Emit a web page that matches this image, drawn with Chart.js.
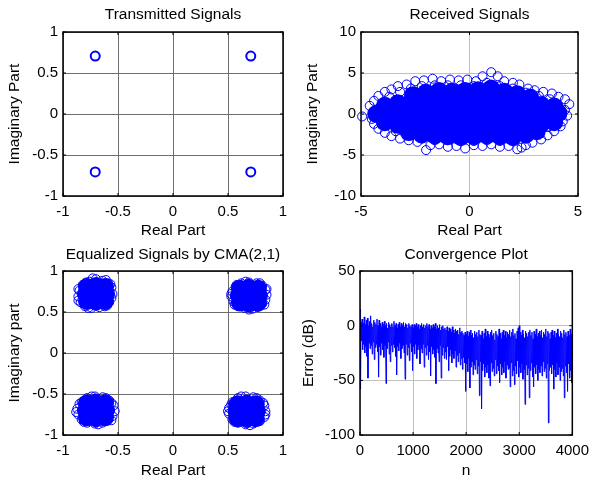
<!DOCTYPE html>
<html>
<head>
<meta charset="utf-8">
<script src="https://cdn.jsdelivr.net/npm/chart.js@4.4.1/dist/chart.umd.min.js"></script>
<style>
  body { margin: 0; background: #fff; width: 596px; height: 483px; position: relative; overflow: hidden; }
  canvas { position: absolute; }
</style>
</head>
<body>
<canvas id="c-tx" width="298" height="241" style="left:0;top:0"></canvas>
<canvas id="c-rx" width="298" height="241" style="left:298px;top:0"></canvas>
<canvas id="c-eq" width="298" height="242" style="left:0;top:241px"></canvas>
<canvas id="c-err" width="298" height="242" style="left:298px;top:241px"></canvas>
<script>
// --- data ---
const txRe = [0.707, -0.707, -0.707, 0.707];
const txIm = [0.707, 0.707, -0.707, -0.707];

// received cloud: dense middle (drawn filled) and the loose circles round it
const rxCore = [
  [-2.6, 2.3], [-2.0, 2.6], [-1.4, 2.8], [-0.8, 2.7], [-0.2, 2.8], [0.4, 2.9], [1.0, 3.1], [1.6, 2.7], [2.2, 2.4], [2.8, 2.0],
  [-3.9, 1.0], [-3.3, 1.3], [-2.7, 1.4], [-2.1, 1.3], [-1.5, 1.4], [-0.9, 1.3], [-0.3, 1.4], [0.3, 1.3], [0.9, 1.5], [1.5, 1.4],
  [2.1, 1.3], [2.7, 1.2], [3.3, 1.1], [3.9, 0.9],
  [-4.3, 0.0], [-3.7, 0.1], [-3.1, -0.1], [-2.5, 0.0], [-1.9, 0.1], [-1.3, -0.1], [-0.7, 0.0], [-0.1, 0.1], [0.5, 0.0], [1.1, -0.1],
  [1.7, 0.1], [2.3, 0.0], [2.9, 0.1], [3.5, 0.0], [4.1, 0.1],
  [-3.9, -1.0], [-3.3, -1.3], [-2.7, -1.4], [-2.1, -1.3], [-1.5, -1.4], [-0.9, -1.3], [-0.3, -1.4], [0.3, -1.3], [0.9, -1.4], [1.5, -1.3],
  [2.1, -1.4], [2.7, -1.3], [3.3, -1.2], [3.9, -1.0],
  [-2.8, -2.2], [-2.2, -2.5], [-1.6, -2.6], [-1.0, -2.7], [-0.4, -2.8], [0.2, -2.7], [0.8, -2.6], [1.4, -2.7], [2.0, -2.8], [2.6, -2.5], [3.1, -2.1],
];
const rxEdge = [
  [-4.6, 1.0], [-4.4, 1.6], [-4.2, 2.2], [-3.9, 2.7], [-3.6, 3.0], [-3.3, 3.4], [-2.9, 3.6], [-2.5, 4.0], [-2.1, 4.1], [-1.7, 4.3],
  [-1.3, 4.0], [-0.9, 4.2], [-0.5, 4.1], [-0.1, 4.2], [0.3, 4.0], [0.6, 4.6], [1.0, 5.1], [1.3, 4.6], [1.6, 4.0], [2.0, 3.8],
  [2.3, 3.6], [2.7, 3.1], [3.0, 2.9], [3.4, 2.7], [3.8, 2.5], [4.1, 2.1], [4.4, 1.8], [4.6, 1.2],
  [4.4, 0.5], [4.5, -0.2], [4.3, -0.9], [4.2, -1.5], [3.9, -2.1],
  [3.6, -2.6], [3.3, -3.1], [2.9, -3.5], [2.6, -3.8], [2.2, -4.3], [2.4, -4.1], [1.8, -3.9], [1.4, -4.0], [1.0, -3.7], [0.6, -3.9],
  [0.2, -3.8], [-0.2, -4.2], [-0.6, -3.9], [-1.0, -4.0], [-1.4, -3.7], [-1.8, -3.8], [-2.0, -4.4], [-2.4, -3.4], [-2.8, -3.2],
  [-3.2, -3.0], [-3.6, -2.7], [-3.9, -2.3], [-4.2, -1.8], [-4.4, -1.2], [-4.5, -0.6], [-4.95, -0.3],
  [-4.0, 1.4], [-3.7, 2.1], [-3.2, 2.7], [-2.7, 3.1], [-2.2, 3.4], [-1.6, 3.5], [-1.0, 3.5], [-0.4, 3.5], [0.2, 3.4], [0.8, 3.8],
  [1.4, 3.4], [2.0, 3.1], [2.6, 2.6], [3.2, 2.2], [3.7, 1.8], [4.1, 1.0], [4.0, 0.1], [3.9, -0.8], [3.6, -1.6], [3.2, -2.4],
  [2.6, -3.0], [2.0, -3.3], [1.4, -3.3], [0.8, -3.2], [0.2, -3.3], [-0.4, -3.3], [-1.0, -3.2], [-1.6, -3.2], [-2.2, -3.0],
  [-2.8, -2.6], [-3.4, -2.1], [-3.9, -1.4], [-4.1, -0.6], [-4.2, 0.3],
];

// equalized clusters: centre, dense body, loose rim
const eqCenter = [[-0.70, 0.72], [0.69, 0.70], [-0.70, -0.70], [0.67, -0.71]];
const eqCore = [
  [-0.782, 0.805], [-0.618, 0.805], [-0.782, 0.635], [-0.618, 0.635],
  [0.608, 0.785], [0.772, 0.785], [0.608, 0.615], [0.772, 0.615],
  [-0.782, -0.615], [-0.618, -0.615], [-0.782, -0.785], [-0.618, -0.785],
  [0.588, -0.625], [0.752, -0.625], [0.588, -0.795], [0.752, -0.795],
];
const eqBody = [
  [-0.81, 0.72], [-0.59, 0.72], [-0.70, 0.84], [-0.70, 0.60],
  [0.58, 0.70], [0.80, 0.70], [0.69, 0.82], [0.69, 0.58],
  [-0.81, -0.70], [-0.59, -0.70], [-0.70, -0.58], [-0.70, -0.82],
  [0.56, -0.71], [0.78, -0.71], [0.67, -0.59], [0.67, -0.83],
];
const eqEdge = [
  [-0.55, 0.72], [-0.56, 0.80], [-0.59, 0.85], [-0.64, 0.88], [-0.70, 0.90], [-0.76, 0.87], [-0.82, 0.83], [-0.85, 0.76],
  [-0.86, 0.69], [-0.84, 0.62], [-0.80, 0.57], [-0.74, 0.55], [-0.67, 0.56], [-0.62, 0.57], [-0.58, 0.62], [-0.56, 0.67],
  [-0.57, 0.84], [-0.61, 0.89], [-0.73, 0.91], [-0.79, 0.86], [-0.86, 0.78], [-0.86, 0.64], [-0.77, 0.55], [-0.60, 0.58],
  [0.85, 0.71], [0.84, 0.77], [0.81, 0.82], [0.76, 0.85], [0.69, 0.86], [0.62, 0.85], [0.57, 0.81], [0.54, 0.75],
  [0.53, 0.69], [0.55, 0.63], [0.59, 0.58], [0.65, 0.55], [0.72, 0.54], [0.77, 0.56], [0.81, 0.60], [0.84, 0.65],
  [0.85, 0.78], [0.79, 0.85], [0.66, 0.87], [0.58, 0.83], [0.53, 0.72], [0.56, 0.59], [0.69, 0.53], [0.83, 0.59],
  [-0.53, -0.71], [-0.54, -0.64], [-0.58, -0.58], [-0.64, -0.54], [-0.71, -0.53], [-0.78, -0.55], [-0.83, -0.60], [-0.87, -0.68],
  [-0.86, -0.75], [-0.83, -0.81], [-0.78, -0.85], [-0.71, -0.86], [-0.64, -0.85], [-0.59, -0.81], [-0.55, -0.77],
  [-0.56, -0.61], [-0.61, -0.55], [-0.74, -0.53], [-0.85, -0.62], [-0.88, -0.72], [-0.81, -0.84], [-0.68, -0.87], [-0.56, -0.82],
  [0.84, -0.71], [0.83, -0.64], [0.79, -0.58], [0.73, -0.54], [0.66, -0.53], [0.59, -0.55], [0.54, -0.60], [0.51, -0.67],
  [0.51, -0.74], [0.54, -0.81], [0.59, -0.85], [0.66, -0.87], [0.73, -0.86], [0.79, -0.83], [0.83, -0.78],
  [0.82, -0.61], [0.76, -0.55], [0.62, -0.53], [0.53, -0.63], [0.50, -0.71], [0.56, -0.84], [0.70, -0.88], [0.84, -0.75],
];

// convergence error in dB, one value every errStep samples
const errStep = 10;
const errDb = [
  15, -58, 3, -14, 6, -22, 2, -17, 8, -25, 1, -19, 5, -28, 7, -48, 0, -16, 4, -21,
  9, -18, 2, -26, -1, -15, 5, -31, 3, -20, 1, -17, 6, -24, 0, -47, 5, -19, 2, -27,
  -1, -16, 3, -22, 1, -29, 4, -18, 0, -53, 2, -21, -2, -15, 3, -26, 1, -33, -1, -18,
  2, -24, -1, -17, 4, -20, 0, -28, 2, -45, -2, -19, 1, -23, 3, -16, -1, -30, 2, -21,
  0, -18, 3, -25, -1, -49, 2, -17, 1, -27, -2, -20, 2, -32, 0, -16, -1, -24, 1, -41,
  -2, -19, 1, -26, 0, -17, 2, -30, -1, -22, 1, -18, -3, -35, 0, -21, 2, -25, -1, -17,
  1, -38, -2, -20, 0, -27, 2, -18, -1, -31, 1, -24, -3, -46, 0, -19, -2, -26, 1, -22,
  -1, -29, 2, -53, -3, -21, 0, -25, -2, -33, 1, -18, -4, -48, -1, -27, 0, -20, -3, -30,
  -2, -24, -4, -31, -1, -19, -5, -41, -2, -28, -3, -22, -6, -34, -1, -26, -4, -30, -7, -23,
  -3, -38, -5, -27, -4, -33, -8, -25, -2, -36, -6, -30, -5, -40, -7, -29, -9, -34, -6, -60,
  -8, -35, -5, -42, -10, -30, -6, -57, -4, -38, -9, -33, -7, -45, -11, -36, -5, -40, -8, -31,
  -6, -44, -10, -37, -4, -64, -8, -33, -9, -76, -5, -41, -12, -35, -7, -47, -3, -38, -10, -43,
  -5, -36, -8, -48, -11, -55, -6, -34, -4, -42, -9, -39, -7, -46, -13, -31, -5, -44, -8, -37,
  -10, -41, -3, -52, -7, -35, -12, -45, -6, -38, -4, -43, -9, -33, -5, -48, -11, -36, -6, -40,
  -8, -39, -4, -56, -10, -34, -6, -46, -3, -41, -9, -54, -7, -37, -12, -44, -5, -32, -2, -47,
  0, -38, -6, -43, -9, -35, -4, -49, -8, -40, -11, -72, -5, -36, -7, -45, -10, -39, -6, -66,
  -4, -41, -9, -34, -6, -47, -12, -56, -5, -38, -8, -44, -3, -36, -10, -50, -7, -40, -5, -43,
  -9, -37, -4, -46, -11, -33, -6, -42, -8, -39, -3, -48, -10, -35, -5, -89, -7, -41, -12, -38,
  -6, -44, -4, -36, -9, -58, -5, -40, -11, -47, -7, -34, -3, -45, -8, -38, -10, -50, -5, -42,
  -7, -39, -11, -46, -4, -66, -8, -37, -6, -43, -10, -60, -5, -35, -9, -48, -3, -41, -8, -52,
  -6,
];

const BLUE = '#0000ff';
const FONT = "'Liberation Sans', Arial, Helvetica, sans-serif";

// black box with inward ticks on all four sides, like a matlab axes
const matlabBox = {
  id: 'matlabBox',
  afterDatasetsDraw(chart) {
    const { ctx, chartArea: a, scales } = chart;
    ctx.save();
    ctx.strokeStyle = '#000';
    ctx.lineWidth = 1;
    ctx.beginPath();
    scales.x.ticks.forEach((t) => {
      const px = scales.x.getPixelForValue(t.value);
      ctx.moveTo(px, a.bottom); ctx.lineTo(px, a.bottom - 3);
      ctx.moveTo(px, a.top); ctx.lineTo(px, a.top + 3);
    });
    scales.y.ticks.forEach((t) => {
      const py = scales.y.getPixelForValue(t.value);
      ctx.moveTo(a.left, py); ctx.lineTo(a.left + 3, py);
      ctx.moveTo(a.right, py); ctx.lineTo(a.right - 3, py);
    });
    ctx.stroke();
    ctx.lineWidth = 1.5;
    ctx.strokeRect(a.left, a.top, a.right - a.left, a.bottom - a.top);
    ctx.restore();
  },
};

function opts(o) {
  const txt = (size) => ({ family: FONT, size });
  return {
    responsive: false,
    animation: false,
    layout: { padding: { left: 0, right: o.padRight, top: 0, bottom: 0 } },
    plugins: { legend: { display: false }, tooltip: { enabled: false } },
    scales: {
      // top axis only carries the subplot title, centred over the plot box
      top: {
        type: 'linear', position: 'top', min: o.xMin, max: o.xMax,
        grid: { display: false }, border: { display: false }, ticks: { display: false },
        title: { display: true, text: o.title, color: '#000', font: txt(15.5), padding: { top: o.titleTop, bottom: 0 } },
        afterFit: (s) => { s.height = o.topH; },
      },
      x: {
        type: 'linear', position: 'bottom', min: o.xMin, max: o.xMax,
        grid: { color: o.grid, drawTicks: false },
        border: { display: false },
        ticks: { stepSize: o.xStep, color: '#000', padding: 7, font: txt(15), callback: (v) => String(v) },
        title: { display: true, text: o.xTitle, color: '#000', font: txt(15.5), padding: { top: 0, bottom: o.xTitlePad } },
        afterFit: (s) => { s.height = o.xH; },
      },
      y: {
        type: 'linear', min: o.yMin, max: o.yMax,
        grid: { color: o.grid, drawTicks: false },
        border: { display: false },
        ticks: { stepSize: o.yStep, color: '#000', padding: 5, font: txt(15), callback: (v) => String(v) },
        title: { display: true, text: o.yTitle, color: '#000', font: txt(15.5), padding: { top: o.yTitlePad, bottom: 0 } },
        afterFit: (s) => { s.width = o.yW; },
      },
    },
  };
}

const toXY = (pairs) => pairs.map(([x, y]) => ({ x, y }));

new Chart(document.getElementById('c-tx'), {
  type: 'scatter',
  data: { datasets: [{ data: txRe.map((x, i) => ({ x, y: txIm[i] })), pointRadius: 4.5, borderWidth: 2, pointBorderColor: BLUE, pointBackgroundColor: 'transparent' }] },
  options: opts({ title: 'Transmitted Signals', titleTop: 5, topH: 32, padRight: 15, xMin: -1, xMax: 1, xStep: 0.5, yMin: -1, yMax: 1, yStep: 0.5,
    xTitle: 'Real Part', yTitle: 'Imaginary Part', grid: '#6e6e6e', xH: 45, yW: 63, xTitlePad: 1, yTitlePad: 5 }),
  plugins: [matlabBox],
});

new Chart(document.getElementById('c-rx'), {
  type: 'scatter',
  data: { datasets: [
    { data: toXY(rxEdge), pointRadius: 4.5, borderWidth: 1, pointBorderColor: BLUE, pointBackgroundColor: 'transparent', clip: false },
    { data: toXY(rxCore), pointRadius: 9, borderWidth: 0, pointBorderColor: BLUE, pointBackgroundColor: BLUE },
  ] },
  options: opts({ title: 'Received Signals', titleTop: 5, topH: 32, padRight: 18, xMin: -5, xMax: 5, xStep: 5, yMin: -10, yMax: 10, yStep: 5,
    xTitle: 'Real Part', yTitle: 'Imaginary Part', grid: '#c0c0c0', xH: 45, yW: 63, xTitlePad: 1, yTitlePad: 5 }),
  plugins: [matlabBox],
});

new Chart(document.getElementById('c-eq'), {
  type: 'scatter',
  data: { datasets: [
    { data: toXY(eqEdge), pointRadius: 4.5, borderWidth: 1, pointBorderColor: BLUE, pointBackgroundColor: 'transparent' },
    { data: toXY(eqCore), pointRadius: 9, borderWidth: 0, pointBorderColor: BLUE, pointBackgroundColor: BLUE },
    { data: toXY(eqBody), pointRadius: 7, borderWidth: 0, pointBorderColor: BLUE, pointBackgroundColor: BLUE },
    { data: toXY(eqCenter), pointRadius: 12, borderWidth: 0, pointBorderColor: BLUE, pointBackgroundColor: BLUE },
  ] },
  options: opts({ title: 'Equalized Signals by CMA(2,1)', titleTop: 4, topH: 30, padRight: 15, xMin: -1, xMax: 1, xStep: 0.5, yMin: -1, yMax: 1, yStep: 0.5,
    xTitle: 'Real Part', yTitle: 'Imaginary part', grid: '#6e6e6e', xH: 48, yW: 63, xTitlePad: 3, yTitlePad: 5 }),
  plugins: [matlabBox],
});

new Chart(document.getElementById('c-err'), {
  type: 'line',
  data: { datasets: [{ data: errDb.map((v, i) => ({ x: i * errStep, y: v })), borderColor: BLUE, borderWidth: 1, pointRadius: 0, tension: 0, fill: false }] },
  options: opts({ title: 'Convergence Plot', titleTop: 4, topH: 30, padRight: 18, xMin: 0, xMax: 4000, xStep: 1000, yMin: -100, yMax: 50, yStep: 50,
    xTitle: 'n', yTitle: 'Error (dB)', grid: '#c0c0c0', xH: 48, yW: 62, xTitlePad: 3, yTitlePad: 1 }),
  plugins: [matlabBox],
});
</script>
</body>
</html>
